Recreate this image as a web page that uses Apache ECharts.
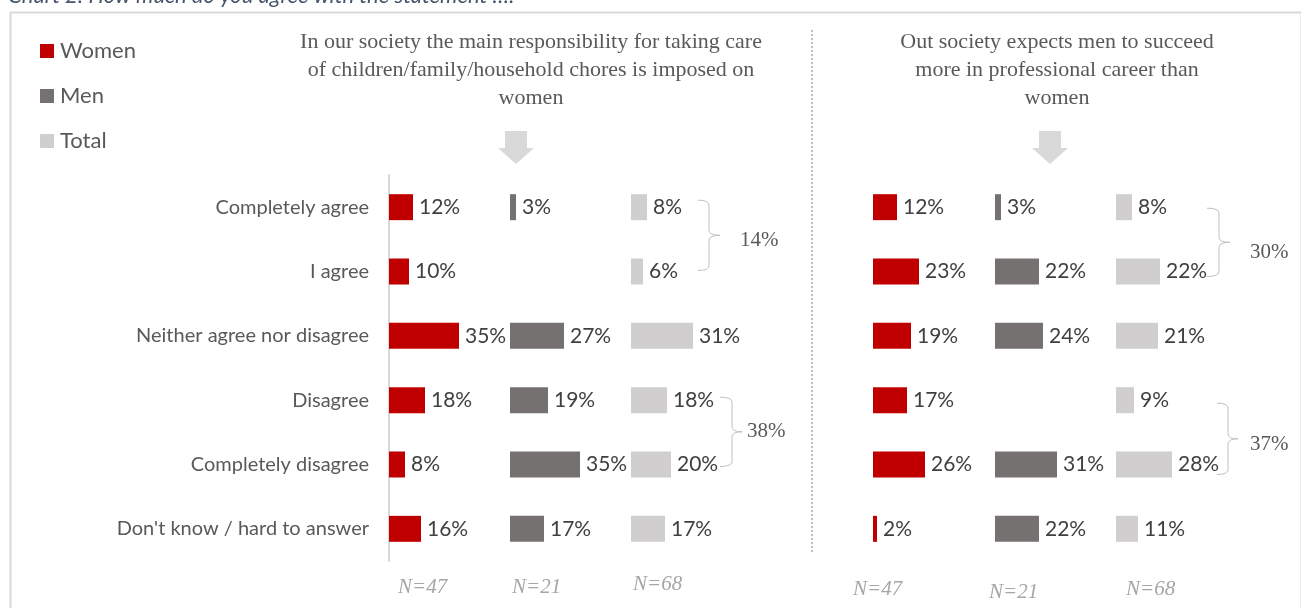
<!DOCTYPE html>
<html>
<head>
<meta charset="utf-8">
<script src="https://cdn.jsdelivr.net/npm/echarts@6/dist/echarts.min.js"></script>
<style>
  html, body { margin: 0; padding: 0; background: #ffffff; }
  #chart { width: 1301px; height: 608px; }
</style>
</head>
<body>
<div id="chart"></div>
<script>
// Answer scale, top to bottom
const categories = [
  'Completely agree',
  'I agree',
  'Neither agree nor disagree',
  'Disagree',
  'Completely disagree',
  "Don't know / hard to answer"
];

const groups = ['Women', 'Men', 'Total'];
const sampleSizes = [47, 21, 68];

// Statement 1: care of children / family / household is imposed on women (%)
const careWomen = [12, 10, 35, 18, 8, 16];
const careMen   = [3, null, 27, 19, 35, 17];
const careTotal = [8, 6, 31, 18, 20, 17];

// Statement 2: society expects men to succeed more in professional career (%)
const careerWomen = [12, 23, 19, 17, 26, 2];
const careerMen   = [3, 22, 24, null, 31, 22];
const careerTotal = [8, 22, 21, 9, 28, 11];

const panelTitles = [
  'In our society the main responsibility for taking care\nof children/family/household chores is imposed on\nwomen',
  'Out society expects men to succeed\nmore in professional career than\nwomen'
];

const colors = { Women: '#c00000', Men: '#767171', Total: '#d0cece' };
const labelFont = 'Lato, "Open Sans", sans-serif';
const serifFont = '"Liberation Serif", "DejaVu Serif", serif';

const panels = [
  { series: [careWomen, careMen, careTotal], lefts: [389, 510, 631], titleX: 526, arrowX: 516,
    nX: [398, 512, 633], nY: [587, 587, 584],
    braces: [ { from: 0, to: 1, x0: 698, x1: 709, tip: 720, tx: 740, ty: 5, dTop: -7, dBot: -1 },
              { from: 3, to: 4, x0: 720, x1: 732, tip: 742, tx: 747, ty: 0, dTop: -3, dBot: 2 } ] },
  { series: [careerWomen, careerMen, careerTotal], lefts: [873, 995, 1116], titleX: 1052, arrowX: 1050,
    nX: [853, 989, 1126], nY: [589, 592, 589],
    braces: [ { from: 0, to: 1, x0: 1207, x1: 1219, tip: 1230, tx: 1250, ty: 10, dTop: 1, dBot: 5 },
              { from: 3, to: 4, x0: 1217, x1: 1228, tip: 1238, tx: 1250, ty: 6, dTop: 3, dBot: 10 } ] }
];

const GRID_TOP = 175, GRID_H = 386, COL_W = 100, X_MAX = 50;

const grids = [], xAxes = [], yAxes = [], series = [];
panels.forEach((p, pi) => {
  p.series.forEach((vals, gi) => {
    const idx = grids.length;
    const showAxis = pi === 0 && gi === 0;
    grids.push({ left: p.lefts[gi], top: GRID_TOP, width: COL_W, height: GRID_H });
    xAxes.push({ type: 'value', gridIndex: idx, min: 0, max: X_MAX, show: false });
    yAxes.push({
      type: 'category', gridIndex: idx, data: categories, inverse: true,
      axisLine: { show: showAxis, lineStyle: { color: '#d9d9d9', width: 2 } },
      axisTick: { show: false },
      axisLabel: {
        show: showAxis, margin: 20, fontFamily: labelFont, fontSize: 20, color: '#595959'
      },
      splitLine: { show: false }
    });
    series.push({
      name: groups[gi], type: 'bar', xAxisIndex: idx, yAxisIndex: idx,
      data: vals, barWidth: 26,
      itemStyle: { color: colors[groups[gi]] },
      label: {
        show: true, position: 'right', distance: 6,
        formatter: (d) => d.value == null ? '' : d.value + '%',
        fontFamily: labelFont, fontSize: 21, color: '#404040'
      },
      emphasis: { disabled: true },
      animation: false
    });
  });
});

const chart = echarts.init(document.getElementById('chart'), null, { renderer: 'canvas' });

const baseGraphics = [
  // outer frame
  { type: 'rect', left: 8, top: 10, shape: { width: 1291, height: 640 },
    style: { fill: 'none', stroke: '#d9d9d9', lineWidth: 2 }, silent: true },
  // caption above the frame
  { type: 'text', left: 8, top: -15,
    style: { text: 'Chart 2: How much do you agree with the statement \u2026:', fill: '#44546a',
             font: 'italic 22px Lato, "Open Sans", sans-serif' } },
  // divider between statements
  { type: 'line', shape: { x1: 812, y1: 30, x2: 812, y2: 554 },
    style: { stroke: '#bfbfbf', lineWidth: 2, lineDash: [2, 2] } }
];

panels.forEach((p) => {
  // down arrow under each statement
  const cx = p.arrowX;
  baseGraphics.push({
    type: 'polygon',
    shape: { points: [[cx - 11, 131], [cx + 11, 131], [cx + 11, 148], [cx + 18, 148],
                      [cx, 164], [cx - 18, 148], [cx - 11, 148]] },
    style: { fill: '#d9d9d9' }
  });
  // sample sizes
  sampleSizes.forEach((n, i) => {
    baseGraphics.push({
      type: 'text', x: p.nX[i], y: p.nY[i],
      style: { text: 'N=' + n, fill: '#a6a6a6', font: 'italic 21px ' + serifFont,
               verticalAlign: 'middle' }
    });
  });
});

chart.setOption({
  animation: false,
  textStyle: { fontFamily: labelFont },
  legend: {
    orient: 'vertical', left: 35, top: 35, itemGap: 23,
    itemWidth: 14, itemHeight: 14, icon: 'rect',
    data: groups,
    textStyle: { fontFamily: labelFont, fontSize: 22, color: '#595959', padding: [0, 0, 0, 1] },
    selectedMode: false
  },
  title: panels.map((p, i) => ({
    text: panelTitles[i], left: p.titleX, top: 23, textAlign: 'center',
    textStyle: { fontFamily: serifFont, fontWeight: 'normal', fontSize: 22, color: '#595959',
                 lineHeight: 28, align: 'center' }
  })),
  grid: grids, xAxis: xAxes, yAxis: yAxes, series: series,
  graphic: baseGraphics
});

// Braces that sum two neighbouring Total rows
const braceGraphics = [];
const braceStyle = { fill: 'none', stroke: '#bfbfbf', lineWidth: 1 };
function curve(x1, y1, cx, cy, x2, y2) {
  return { type: 'bezierCurve', shape: { x1, y1, cpx1: cx, cpy1: cy, x2, y2 }, style: braceStyle };
}
function seg(x1, y1, x2, y2) {
  return { type: 'line', shape: { x1, y1, x2, y2 }, style: braceStyle };
}
panels.forEach((p, pi) => {
  const totalAxis = pi * 3 + 2;
  const totals = p.series[2];
  p.braces.forEach((b) => {
    const yA = chart.convertToPixel({ yAxisIndex: totalAxis }, categories[b.from]) + b.dTop;
    const yB = chart.convertToPixel({ yAxisIndex: totalAxis }, categories[b.to]) + b.dBot;
    const ym = (yA + yB) / 2, r = 5;
    braceGraphics.push(
      curve(b.x0, yA, b.x1, yA, b.x1, yA + r),
      seg(b.x1, yA + r, b.x1, ym - r),
      curve(b.x1, ym - r, b.x1, ym, b.tip, ym),
      curve(b.tip, ym, b.x1, ym, b.x1, ym + r),
      seg(b.x1, ym + r, b.x1, yB - r),
      curve(b.x1, yB - r, b.x1, yB, b.x0, yB)
    );
    braceGraphics.push({
      type: 'text', x: b.tx, y: ym + b.ty,
      style: { text: (totals[b.from] + totals[b.to]) + '%', fill: '#595959',
               font: '21px ' + serifFont, verticalAlign: 'middle' }
    });
  });
});

chart.setOption({ graphic: baseGraphics.concat(braceGraphics) });
</script>
</body>
</html>
